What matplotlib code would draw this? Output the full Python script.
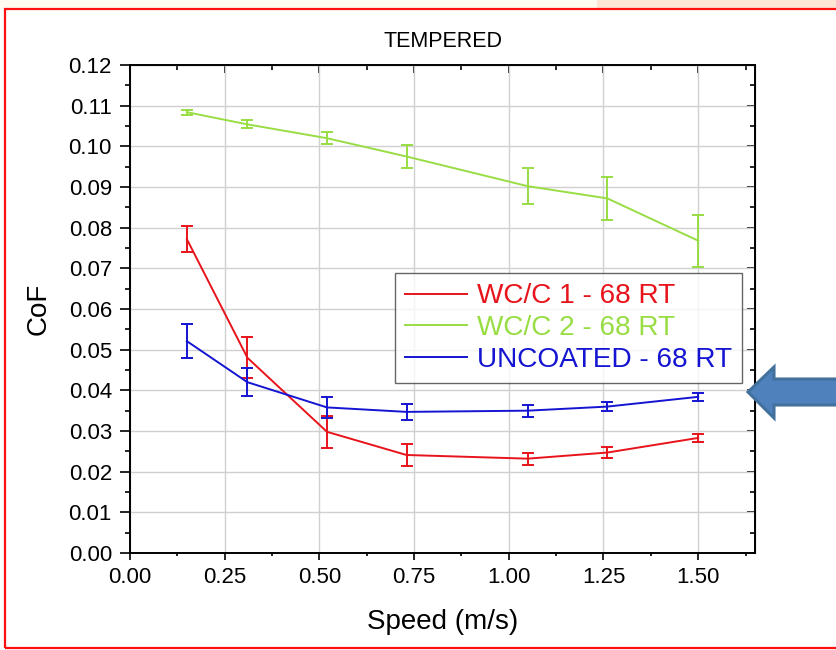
import matplotlib
matplotlib.use("Agg")
import matplotlib.pyplot as plt
from matplotlib.patches import Rectangle, Polygon
from matplotlib.lines import Line2D
from matplotlib.ticker import MultipleLocator, FormatStrFormatter

plt.rcParams['font.family'] = ['Liberation Sans', 'DejaVu Sans']

speed = [0.15, 0.31, 0.52, 0.73, 1.05, 1.26, 1.50]

wcc1 = [0.0772, 0.0480, 0.0298, 0.0241, 0.0232, 0.0247, 0.0283]
wcc1_err = [0.0032, 0.0050, 0.0040, 0.0028, 0.0015, 0.0013, 0.0010]

wcc2 = [0.1084, 0.1054, 0.1020, 0.0975, 0.0902, 0.0872, 0.0768]
wcc2_err = [0.0006, 0.0010, 0.0015, 0.0028, 0.0045, 0.0052, 0.0064]

uncoated = [0.0521, 0.0420, 0.0358, 0.0347, 0.0350, 0.0360, 0.0384]
uncoated_err = [0.0042, 0.0034, 0.0025, 0.0020, 0.0015, 0.0012, 0.0009]

labels = ['WC/C 1 - 68 RT', 'WC/C 2 - 68 RT', 'UNCOATED - 68 RT']
colors = ['#E8141B', '#99DD44', '#1414D2']

W, H = 836, 650
fig = plt.figure(figsize=(W/100, H/100), dpi=100)
fig.patch.set_facecolor('white')

# top strips above the frame
fig.patches.append(Rectangle((0, 1 - 9/H), 597/W, 9/H, transform=fig.transFigure,
                             facecolor='#FFFCEF', edgecolor='none', zorder=0))
fig.patches.append(Rectangle((597/W, 1 - 9/H), (W-597)/W, 9/H, transform=fig.transFigure,
                             facecolor='#FDE5D6', edgecolor='none', zorder=0))
# red frame (right side runs off the canvas)
fig.patches.append(Rectangle((5/W, 1 - 648/H), (W + 10 - 5)/W, (648-9)/H, transform=fig.transFigure,
                             facecolor='none', edgecolor='#FF1010', lw=1.6, zorder=5))

ax = fig.add_axes([130/W, 1 - 553/H, (755-130)/W, (553-65)/H])

for y, e, c in zip([wcc1, wcc2, uncoated], [wcc1_err, wcc2_err, uncoated_err], colors):
    ax.errorbar(speed, y, yerr=e, color=c, lw=1.4, elinewidth=1.4, capsize=4.5, capthick=1.4)

ax.set_xlim(0, 1.65)
ax.set_ylim(0, 0.12)
ax.xaxis.set_major_locator(MultipleLocator(0.25))
ax.xaxis.set_minor_locator(MultipleLocator(0.125))
ax.yaxis.set_major_locator(MultipleLocator(0.01))
ax.yaxis.set_minor_locator(MultipleLocator(0.005))
ax.xaxis.set_major_formatter(FormatStrFormatter('%.2f'))
ax.yaxis.set_major_formatter(FormatStrFormatter('%.2f'))
ax.grid(True, which='major', color='#D0D0D0', lw=1.0)
ax.set_axisbelow(True)
ax.tick_params(axis='x', which='major', direction='out', length=5, width=1.2, labelsize=16, pad=5)
ax.tick_params(axis='x', which='minor', direction='out', length=2.5, width=1.2)
ax.tick_params(axis='y', which='major', direction='out', length=7, width=1.2, labelsize=16, pad=6)
ax.tick_params(axis='y', which='minor', direction='out', length=3.5, width=1.2)
for s in ax.spines.values():
    s.set_linewidth(1.4)

sx = ax.secondary_xaxis('top')
sx.xaxis.set_major_locator(MultipleLocator(0.25))
sx.xaxis.set_minor_locator(MultipleLocator(0.125))
sx.tick_params(which='major', direction='in', length=6, width=1.2, labeltop=False)
sx.tick_params(which='minor', direction='in', length=3.5, width=1.2)
sy = ax.secondary_yaxis('right')
sy.yaxis.set_major_locator(MultipleLocator(0.01))
sy.yaxis.set_minor_locator(MultipleLocator(0.005))
sy.tick_params(which='major', direction='in', length=6, width=1.2, labelright=False)
sy.tick_params(which='minor', direction='in', length=3.5, width=1.2)

ax.set_xlabel('Speed (m/s)', fontsize=20, labelpad=15)
ax.set_ylabel('CoF', fontsize=20, labelpad=12)
ax.set_title('TEMPERED', fontsize=15.5, pad=13)

handles = [Line2D([], [], color=c, lw=1.4) for c in colors]
leg = ax.legend(handles, labels, loc='upper left',
                bbox_to_anchor=((395-130)/(755-130), (553-273)/(553-65)),
                fontsize=20.2, frameon=True, fancybox=False, edgecolor='#404040',
                handlelength=2.2, handletextpad=0.35, borderpad=0.37, labelspacing=0.2,
                borderaxespad=0)
leg.get_frame().set_linewidth(1.0)
for t, c in zip(leg.get_texts(), colors):
    t.set_color(c)

# blue arrow pointing left
pts = [(748, 392), (774, 367), (774, 379), (840, 379), (840, 405), (774, 405), (774, 418)]
fig.patches.append(Polygon([(x/W, 1 - y/H) for x, y in pts], closed=True, transform=fig.transFigure,
                           facecolor='#4F81BD', edgecolor='#41719C', lw=2.2, zorder=6))

fig.savefig('out.png', dpi=100)
